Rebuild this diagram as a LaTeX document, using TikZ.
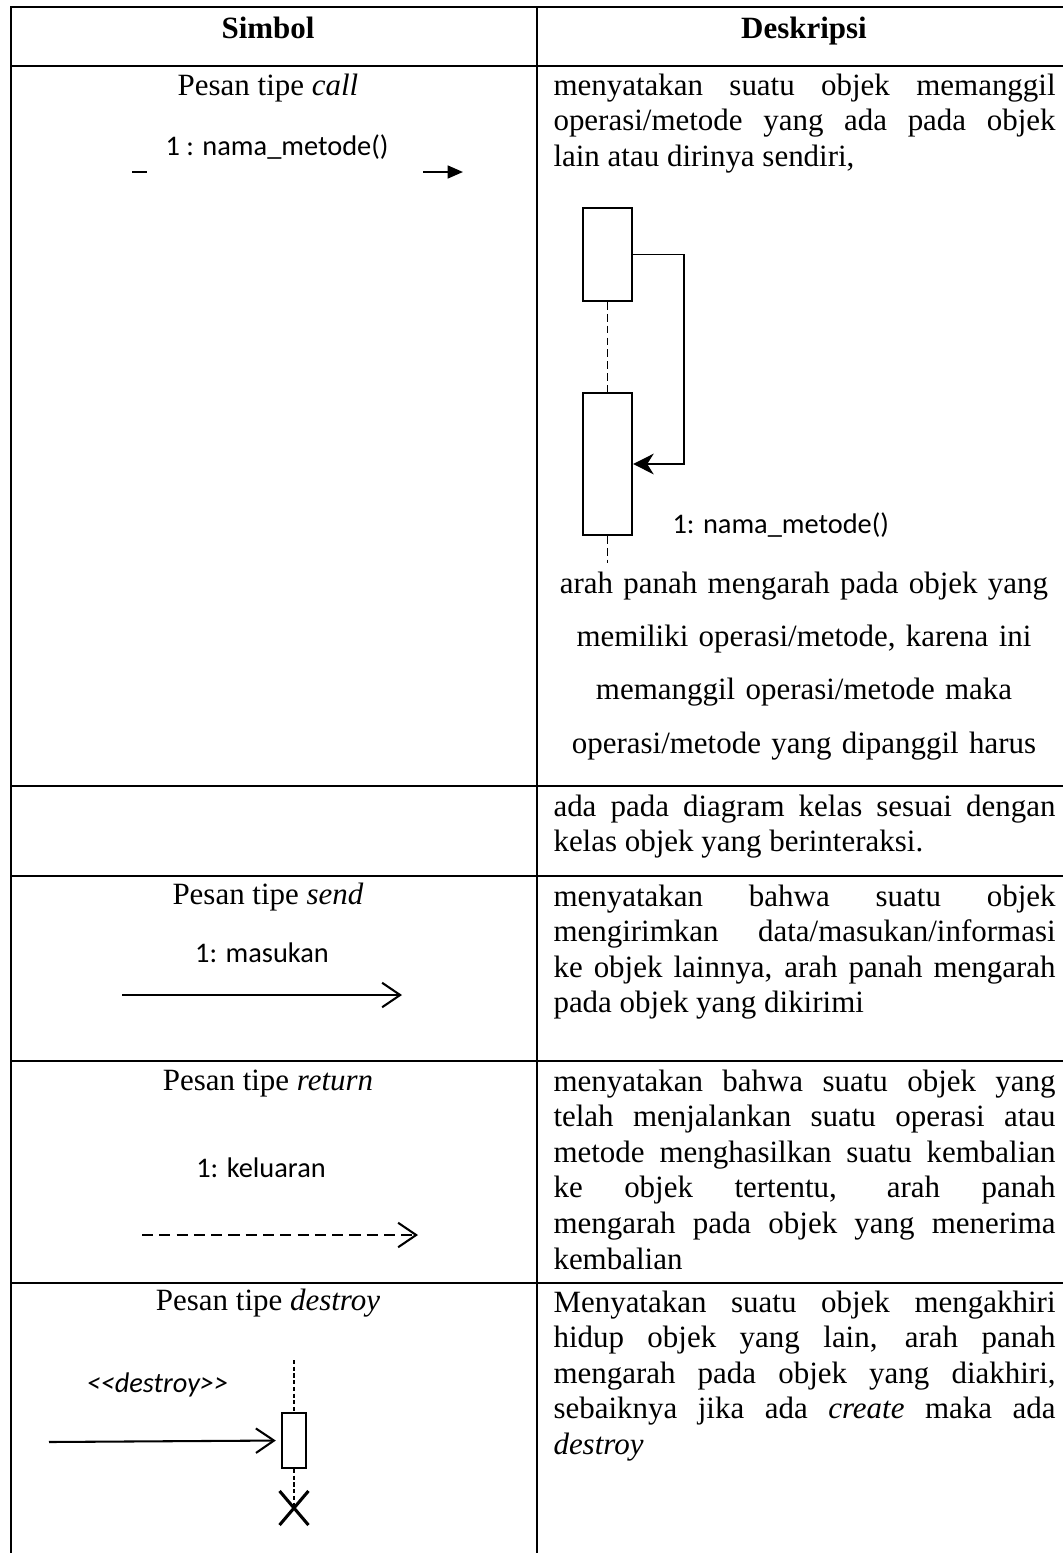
\documentclass[tikz,border=0pt]{standalone}
\usepackage{fontspec}
\setmainfont{Liberation Serif}
\newfontfamily\calibri{Carlito}
\usetikzlibrary{arrows.meta,positioning,calc,shapes.misc}
\hyphenpenalty=10000
\exhyphenpenalty=10000
\tolerance=10000
\hbadness=10000

\tikzset{
  tableline/.style={line width=0.8pt, line cap=rect},
  headtext/.style={font=\fontsize{12}{13.8}\selectfont\bfseries, inner sep=0pt, anchor=base},
  symtext/.style={font=\fontsize{12}{13.8}\selectfont, inner sep=0pt, anchor=base},
  desctext/.style={font=\fontsize{12}{13.8}\selectfont, inner sep=0pt, text width=194.6pt, align=justify, anchor=base west},
  desccenter/.style={font=\fontsize{12}{20.7}\selectfont, inner sep=0pt, text width=194.6pt, align=center, anchor=base},
  msglabel/.style={font=\calibri\fontsize{11}{13}\selectfont, inner sep=0pt, anchor=base},
  actbox/.style={draw, line width=0.8pt, inner sep=0pt, minimum width=19pt},
  lifeline/.style={line width=0.7pt, dash pattern=on 3pt off 1.6pt},
  msgline/.style={line width=0.8pt, -{Straight Barb[length=7pt,width=9.5pt]}},
}

\begin{document}
\begin{tikzpicture}[x=0.3876pt, y=-0.3876pt]
    \useasboundingbox (0,0) rectangle (1062,1553);

    % table grid
    \foreach \y in {7,66,786,876,1061,1283}
        \draw[tableline] (11,\y) -- (1062,\y);
    \foreach \x in {11,537}
        \draw[tableline] (\x,7) -- (\x,1553);

    % header
    \node[headtext] (hsym) at (268,38) {Simbol};
    \node[headtext] (hdesc) at (804,38) {Deskripsi};

    % call
    \node[symtext] (tcall) at (268,95) {Pesan tipe \textit{call}};
    \node[msglabel] (lcall) at (277,155) {1 : nama\_metode()};
    \coordinate (cdash1) at (132,172);
    \coordinate (cdash2) at (147,172);
    \coordinate (carr1) at (423,172);
    \coordinate (carr2) at (463,172);
    \draw[line width=0.8pt] (cdash1) -- (cdash2);
    \draw[line width=0.8pt, -{Triangle[length=6pt,width=5pt]}] (carr1) -- (carr2);

    \node[desctext] (dcall) at (553,95) {menyatakan suatu objek memanggil\linebreak operasi/metode yang ada pada objek\linebreak lain atau dirinya sendiri,};
    \node[actbox, minimum height=36pt] (act1) at (607.5,254.5) {};
    \node[actbox, minimum height=55pt] (act2) at (607.5,464) {};
    \coordinate (lend) at (607.5,563);
    \draw[lifeline] (act1) -- (act2);
    \draw[lifeline] (act2) -- (lend);
    \draw[line width=0.6pt, -{Stealth[length=8pt,width=8pt,inset=2.5pt]}] (act1.east) -- ++(51,0) |- (act2.east);
    \node[msglabel, anchor=base west] (lself) at (672,533) {1: nama\_metode()};
    \node[desccenter] (dcall2) at (804,593) {arah panah mengarah pada objek yang\\ memiliki operasi/metode, karena ini\\ memanggil operasi/metode maka\\ operasi/metode yang dipanggil harus};

    % call (lanjutan)
    \node[desctext] (dcall3) at (553,816) {ada pada diagram kelas sesuai dengan\linebreak kelas objek yang berinteraksi.};

    % send
    \node[symtext] (tsend) at (268,904) {Pesan tipe \textit{send}};
    \node[msglabel] (lsend) at (262,962) {1: masukan};
    \coordinate (s1) at (122,995);
    \coordinate (s2) at (402,995);
    \draw[msgline] (s1) -- (s2);
    \node[desctext] (dsend) at (553,906) {menyatakan bahwa suatu objek\linebreak mengirimkan data/masukan/informasi\linebreak ke objek lainnya, arah panah mengarah\linebreak pada objek yang dikirimi};

    % return
    \node[symtext] (tret) at (268,1090) {Pesan tipe \textit{return}};
    \node[msglabel] (lret) at (261,1177) {1: keluaran};
    \coordinate (r1) at (142,1235);
    \coordinate (r2) at (418,1235);
    \draw[msgline, dash pattern=on 4.3pt off 2.4pt] (r1) -- (r2);
    \node[desctext] (dret) at (553,1091) {menyatakan bahwa suatu objek yang\linebreak telah menjalankan suatu operasi atau\linebreak metode menghasilkan suatu kembalian\linebreak ke objek tertentu, arah panah\linebreak mengarah pada objek yang menerima\linebreak kembalian};

    % destroy
    \node[symtext] (tdes) at (268,1310) {Pesan tipe \textit{destroy}};
    \node[msglabel, anchor=base west] (ldes) at (86,1392) {\itshape <\kern0pt<destroy>\kern0pt>};
    \node[actbox, minimum width=9.3pt, minimum height=21.3pt] (dact) at (294,1440.5) {};
    \coordinate (dtop) at (294,1360);
    \node[draw, cross out, line width=1.2pt, minimum width=10pt, minimum height=12pt, inner sep=0pt] (dkill) at (294,1508) {};
    \draw[lifeline, dash pattern=on 1.6pt off 1pt] (dtop) -- (dact);
    \draw[lifeline, dash pattern=on 1.6pt off 1pt] (dact) -- (dkill.center);
    \coordinate (d1) at (49,1442);
    \draw[msgline, shorten >=2pt] (d1) -- (dact.west);
    \node[desctext] (ddes) at (553,1312) {Menyatakan suatu objek mengakhiri\linebreak hidup objek yang lain, arah panah\linebreak mengarah pada objek yang diakhiri,\linebreak sebaiknya jika ada \textit{create} maka ada\linebreak \textit{destroy}};

\end{tikzpicture}
\end{document}
